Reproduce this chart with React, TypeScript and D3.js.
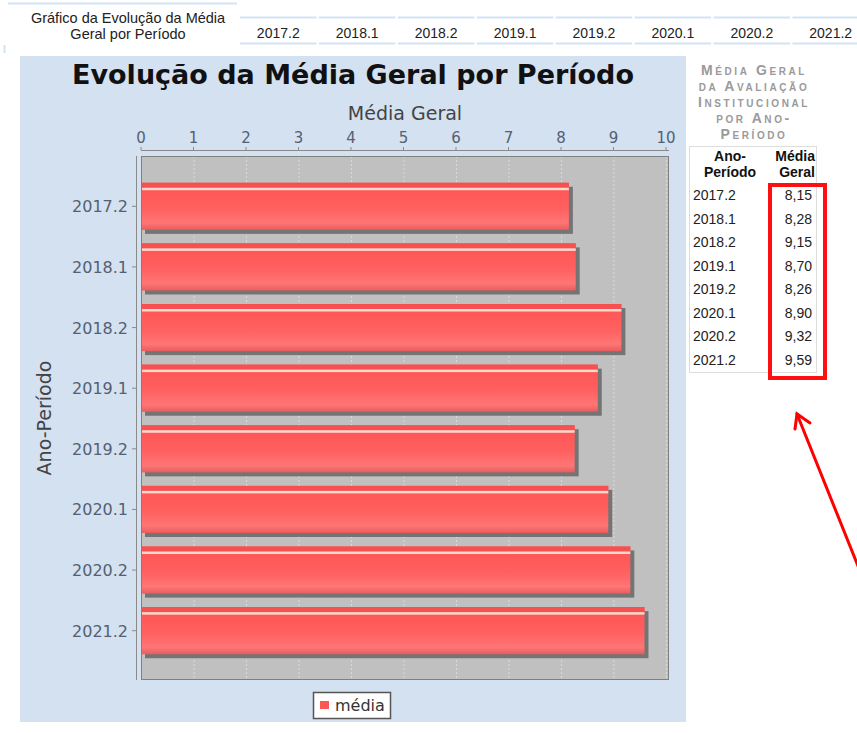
import React from "react";
import * as d3 from "d3";

const categories = ["2017.2", "2018.1", "2018.2", "2019.1", "2019.2", "2020.1", "2020.2", "2021.2"];
const values = [8.15, 8.28, 9.15, 8.7, 8.26, 8.9, 9.32, 9.59];
const xTicks = [0, 1, 2, 3, 4, 5, 6, 7, 8, 9, 10];
const chartTitle = "Evolução da Média Geral por Período";
const xAxisLabel = "Média Geral";
const yAxisLabel = "Ano-Período";
const legendLabel = "média";
const headerTitle = ["Gráfico da Evolução da Média", "Geral por Período"];
const sideTitle = ["Média Geral", "da Avaliação", "Institucional", "por Ano-", "Período"];

export default function App() {
  const plotL = 141, plotT = 156, plotR = 669, plotB = 680;
  const x = d3.scaleLinear().domain([0, 10]).range([141, 666]);
  const y = d3
    .scaleBand<string>()
    .domain(categories)
    .range([176, 661])
    .paddingInner(0.223)
    .paddingOuter(0.1115);
  const bw = y.bandwidth();

  const headerX = d3.scaleBand<string>().domain(categories).range([240, 869]).paddingInner(0.03);
  const rowY = d3.scaleLinear().domain([0, 7]).range([195, 360]);
  const fmt = (v: number) => v.toFixed(2).replace(".", ",");

  const sans = "'DejaVu Sans', sans-serif";
  const arial = "'Liberation Sans', Arial, sans-serif";

  return (
    <svg
      width={857}
      height={733}
      style={{ position: "absolute", left: 0, top: 0, background: "#fff" }}
    >
      <defs>
        <linearGradient id="barGrad" x1="0" y1="0" x2="0" y2="1">
          <stop offset="0" stopColor="#ff5353" />
          <stop offset="0.55" stopColor="#ff6060" />
          <stop offset="0.85" stopColor="#ff7676" />
          <stop offset="1" stopColor="#e85c5c" />
        </linearGradient>
      </defs>

      {/* header row */}
      <line x1={8} x2={237} y1={3.5} y2={3.5} stroke="#d3e3f6" strokeWidth={2} />
      <line x1={4.5} x2={4.5} y1={45} y2={53} stroke="#d3e3f6" strokeWidth={2} />
      {headerTitle.map((t, i) => (
        <text key={t} x={128} y={23 + i * 16} textAnchor="middle" fontFamily={arial} fontSize={14.5} fill="#222">
          {t}
        </text>
      ))}
      {categories.map((c) => {
        const x0 = headerX(c)!;
        const w = headerX.bandwidth();
        return (
          <g key={"h" + c}>
            <line x1={x0} x2={x0 + w} y1={17.5} y2={17.5} stroke="#d3e3f6" strokeWidth={2} />
            <line x1={x0} x2={x0 + w} y1={43.5} y2={43.5} stroke="#d3e3f6" strokeWidth={2} />
            <text x={x0 + w / 2} y={38} textAnchor="middle" fontFamily={arial} fontSize={14} fill="#222">
              {c}
            </text>
          </g>
        );
      })}

      {/* chart panel */}
      <rect x={20} y={56} width={666} height={666} fill="#d3e1f1" />
      <text x={353} y={84} textAnchor="middle" fontFamily={sans} fontWeight="bold" fontSize={27} fill="#111">
        {chartTitle}
      </text>
      <text x={405} y={120} textAnchor="middle" fontFamily={sans} fontSize={19} fill="#444">
        {xAxisLabel}
      </text>
      {xTicks.map((t) => (
        <g key={"t" + t}>
          <text x={x(t)} y={143} textAnchor="middle" fontFamily={sans} fontSize={15} fill="#556070">
            {t}
          </text>
          <line x1={x(t)} x2={x(t)} y1={147} y2={150} stroke="#8a8a8a" />
        </g>
      ))}
      <line x1={plotL} x2={plotR} y1={150.5} y2={150.5} stroke="#8a8a8a" />

      <rect x={plotL} y={plotT} width={plotR - plotL} height={plotB - plotT} fill="#c0c0c0" />
      {xTicks.map((t) => (
        <line
          key={"g" + t}
          x1={x(t) + 0.5}
          x2={x(t) + 0.5}
          y1={plotT}
          y2={plotB}
          stroke="#dadada"
          strokeDasharray="2,2"
        />
      ))}

      {categories.map((c, i) => {
        const y0 = y(c)!;
        const x0 = x(0);
        const w = x(values[i]) - x0;
        return (
          <g key={"b" + c}>
            <rect x={x0 + 4} y={y0 + 4} width={w} height={bw} fill="#747474" />
            <rect x={x0} y={y0} width={w} height={bw} fill="url(#barGrad)" />
            <rect x={x0} y={y0} width={w} height={5} fill="#f65050" />
            <rect x={x0} y={y0 + 5} width={w} height={2.5} fill="#ffd9cc" />
          </g>
        );
      })}
      <rect x={plotL + 0.5} y={plotT + 0.5} width={plotR - plotL - 1} height={plotB - plotT - 1} fill="none" stroke="#808080" />

      <line x1={136.5} x2={136.5} y1={plotT} y2={plotB} stroke="#8a8a8a" />
      {categories.map((c) => {
        const cy = y(c)! + bw / 2;
        return (
          <g key={"l" + c}>
            <line x1={132} x2={136} y1={cy} y2={cy} stroke="#8a8a8a" />
            <text x={128} y={cy + 6} textAnchor="end" fontFamily={sans} fontSize={16} fill="#556070">
              {c}
            </text>
          </g>
        );
      })}
      <text
        transform="translate(51,418) rotate(-90)"
        textAnchor="middle"
        fontFamily={sans}
        fontSize={19}
        fill="#444"
      >
        {yAxisLabel}
      </text>

      {/* legend */}
      <rect x={313.5} y={692.5} width={77} height={26} fill="#fff" stroke="#555" strokeWidth={1.5} />
      <rect x={320} y={701} width={9} height={8} fill="#ff5555" />
      <text x={335} y={711} fontFamily={sans} fontSize={16} fill="#333">
        {legendLabel}
      </text>

      {/* side title */}
      {sideTitle.map((t, i) => (
        <text
          key={"s" + i}
          x={754}
          y={75 + i * 16}
          textAnchor="middle"
          fontFamily={arial}
          fontWeight="bold"
          fontSize={14}
          fill="#9a9a9a"
          letterSpacing={2.6}
          style={{ fontVariant: "small-caps" }}
        >
          {t}
        </text>
      ))}

      {/* side table */}
      <rect x={689.5} y={146.5} width={127} height={226} fill="#fff" stroke="#dddddd" />
      <text x={730} y={161} textAnchor="middle" fontFamily={arial} fontWeight="bold" fontSize={14} fill="#111">
        Ano-
      </text>
      <text x={730} y={177} textAnchor="middle" fontFamily={arial} fontWeight="bold" fontSize={14} fill="#111">
        Período
      </text>
      <text x={815} y={161} textAnchor="end" fontFamily={arial} fontWeight="bold" fontSize={14} fill="#111">
        Média
      </text>
      <text x={815} y={177} textAnchor="end" fontFamily={arial} fontWeight="bold" fontSize={14} fill="#111">
        Geral
      </text>
      {categories.map((c, i) => (
        <g key={"r" + c}>
          <text x={693} y={rowY(i) + 5} fontFamily={arial} fontSize={14} fill="#222">
            {c}
          </text>
          <text x={812} y={rowY(i) + 5} textAnchor="end" fontFamily={arial} fontSize={14} fill="#222">
            {fmt(values[i])}
          </text>
        </g>
      ))}

      {/* annotation */}
      <rect x={770} y={185} width={55} height={193} fill="none" stroke="#ff1010" strokeWidth={4} />
      <g stroke="#ff0000" strokeWidth={3} fill="none" strokeLinecap="round">
        <line x1={797} y1={414} x2={862} y2={576} />
        <polyline points="795,429 797,414 810,423" />
      </g>
    </svg>
  );
}
